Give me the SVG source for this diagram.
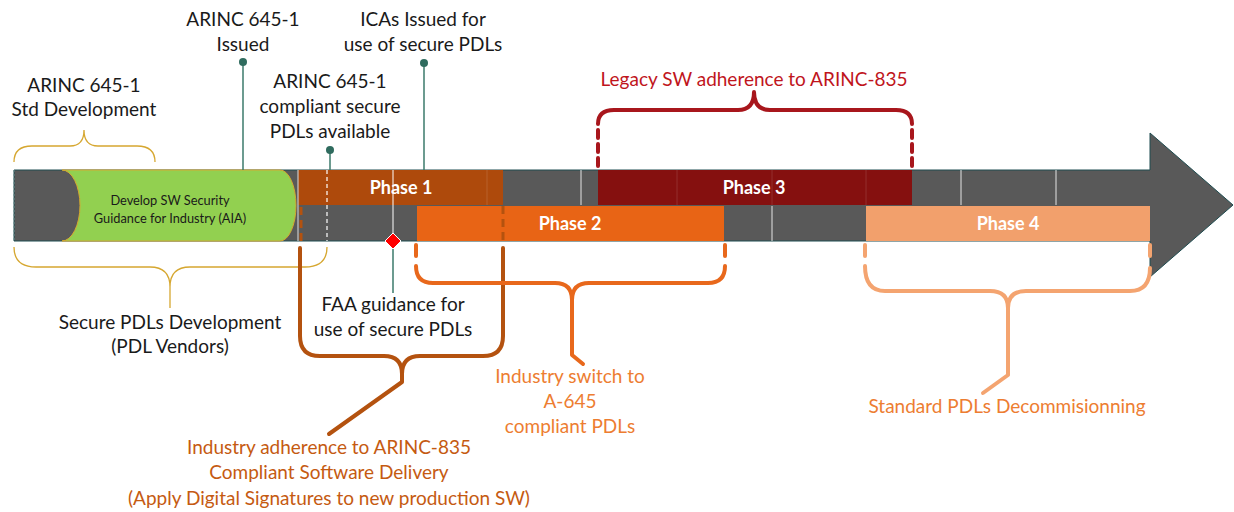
<svg xmlns="http://www.w3.org/2000/svg" width="1234" height="512" viewBox="0 0 1234 512">
  <style>
    .lbl { font-family: Lato, "Liberation Sans", sans-serif; font-size: 19px; text-anchor: middle; fill: #1a1a1a; }
    .phase { font-family: Lato, "Liberation Sans", sans-serif; font-size: 18px; font-weight: bold; text-anchor: middle; fill: #ffffff; }
    .small { font-family: Lato, "Liberation Sans", sans-serif; font-size: 12.8px; text-anchor: middle; fill: #1a1a1a; }
    .pin { stroke: #3b7a6b; stroke-width: 1.5; fill: none; }
    .dot { fill: #2f6b5e; }
    .grid { stroke: #ffffff; stroke-width: 1; opacity: 0.85; }
    .faint { stroke: #ffffff; stroke-width: 1; opacity: 0.12; }
    .brace { fill: none; stroke-width: 4; stroke-linecap: round; stroke-linejoin: round; }
    .gold { fill: none; stroke: #d6a730; stroke-width: 1.3; }
  </style>

  <!-- timeline arrow -->
  <g id="timeline">
    <path d="M14,170 H1150 V133 L1233,205 L1150,277 V241 H14 Z" fill="#595959" stroke="#1f4c50" stroke-width="1"/>
    <line x1="14" y1="170" x2="14" y2="241" stroke="#6a8a8a" stroke-width="1" stroke-dasharray="2 2"/>
  </g>

  <!-- grid ticks inside the bar -->
  <g id="grid">
    <line class="grid" x1="581" y1="170" x2="581" y2="205"/>
    <line class="grid" x1="961" y1="170" x2="961" y2="205"/>
    <line class="grid" x1="1056" y1="170" x2="1056" y2="205"/>
    <line class="grid" x1="772" y1="206" x2="772" y2="241"/>
  </g>

  <!-- development cylinder -->
  <g id="aia-guidance">
    <path d="M62,170 H280 A16,35.5 0 0 1 280,241 H62 A18,35.5 0 0 0 62,170 Z" fill="#92d050" stroke="#d6a730" stroke-width="1"/>
    <text class="small" x="170" y="205">Develop SW Security</text>
    <text class="small" x="170" y="223">Guidance for Industry (AIA)</text>
  </g>

  <!-- phases -->
  <g id="phase1">
    <rect x="298" y="170" width="205" height="35" fill="#ae4a0c"/>
    <line class="faint" x1="487" y1="170" x2="487" y2="205"/>
    <text class="phase" x="401" y="194">Phase 1</text>
  </g>
  <g id="phase2">
    <rect x="417" y="206" width="307" height="35" fill="#e86415"/>
    <text class="phase" x="570" y="230">Phase 2</text>
  </g>
  <g id="phase3">
    <rect x="598" y="170" width="314" height="35" fill="#85100f"/>
    <line class="faint" x1="677" y1="170" x2="677" y2="205"/>
    <line class="faint" x1="772" y1="170" x2="772" y2="205"/>
    <line class="faint" x1="866" y1="170" x2="866" y2="205"/>
    <text class="phase" x="754" y="194">Phase 3</text>
  </g>
  <g id="phase4">
    <rect x="866" y="206" width="284" height="35" fill="#f2a06c"/>
    <text class="phase" x="1008" y="230">Phase 4</text>
  </g>

  <!-- markers and connectors -->
  <g id="connectors">
    <line x1="298" y1="170" x2="298" y2="241" stroke="#c8c8c8" stroke-width="1.2"/>
    <line x1="327" y1="170" x2="327" y2="241" stroke="#ffffff" stroke-width="1.2" stroke-dasharray="4 3"/>
    <line x1="393" y1="170" x2="393" y2="241" stroke="#ffffff" stroke-width="1"/>
    <line class="pin" x1="243" y1="62" x2="243" y2="170"/>
    <line class="pin" x1="424" y1="63" x2="424" y2="170"/>
    <line class="pin" x1="330" y1="150" x2="330" y2="170"/>
    <line class="pin" x1="393" y1="241" x2="393" y2="293"/>
    <circle class="dot" cx="243" cy="62" r="4"/>
    <circle class="dot" cx="424" cy="63" r="4"/>
    <circle class="dot" cx="330" cy="150" r="4"/>
    <path d="M393,233 L401,241 L393,249 L385,241 Z" fill="#ff0000" stroke="#ffffff" stroke-width="1"/>

    <!-- gold braces -->
    <path class="gold" d="M14,162 Q14,146 32,146 H70 Q84,146 84,130 Q84,146 98,146 H137 Q155,146 155,162"/>
    <path class="gold" d="M14,247 Q14,267 36,267 H150 Q170,267 170,287 Q170,267 190,267 H305 Q327,267 327,247"/>
    <line class="gold" x1="170" y1="287" x2="170" y2="308"/>

    <!-- phase 1 brace -->
    <g stroke="#b4520f">
      <line x1="301" y1="207" x2="301" y2="241" stroke-width="3" stroke-dasharray="8 5"/>
      <line x1="503" y1="206" x2="503" y2="241" stroke-width="3" stroke-dasharray="8 5"/>
      <path class="brace" d="M300,248 V336 Q300,356 320,356 H384 Q402,356 402,374 Q402,356 420,356 H483 Q503,356 503,336 V248"/>
      <path class="brace" d="M402,374 V382 L329,434"/>
    </g>

    <!-- phase 2 brace -->
    <g stroke="#e8681c">
      <line class="brace" x1="416" y1="245" x2="416" y2="256"/>
      <line class="brace" x1="725" y1="245" x2="725" y2="256"/>
      <path class="brace" d="M416,266 Q416,283 433,283 H555 Q572,283 572,300 Q572,283 589,283 H708 Q725,283 725,266"/>
      <path class="brace" d="M572,300 V355 L583,364"/>
    </g>

    <!-- phase 3 brace -->
    <g stroke="#a8161c">
      <line class="brace" x1="598" y1="130" x2="598" y2="167" stroke-dasharray="8 6" stroke-linecap="butt"/>
      <line class="brace" x1="912" y1="130" x2="912" y2="167" stroke-dasharray="8 6" stroke-linecap="butt"/>
      <path class="brace" d="M598,124 Q598,110 614,110 H738 Q754,110 754,92 Q754,110 770,110 H896 Q912,110 912,124"/>
    </g>

    <!-- phase 4 brace -->
    <g stroke="#f4a470">
      <line class="brace" x1="865" y1="245" x2="865" y2="256"/>
      <line class="brace" x1="1150" y1="245" x2="1150" y2="256"/>
      <path class="brace" d="M865,266 Q865,291 885,291 H990 Q1008,291 1008,308 Q1008,291 1026,291 H1130 Q1150,291 1150,268"/>
      <path class="brace" d="M1008,308 V375 L983,393"/>
    </g>
  </g>

  <!-- labels -->
  <g id="label-std-dev">
    <text class="lbl" x="84" y="92">ARINC 645-1</text>
    <text class="lbl" x="84" y="116">Std Development</text>
  </g>
  <g id="label-issued">
    <text class="lbl" x="243" y="26">ARINC 645-1</text>
    <text class="lbl" x="243" y="51">Issued</text>
  </g>
  <g id="label-icas">
    <text class="lbl" x="423" y="26">ICAs Issued for</text>
    <text class="lbl" x="423" y="51">use of secure PDLs</text>
  </g>
  <g id="label-available">
    <text class="lbl" x="330" y="88">ARINC 645-1</text>
    <text class="lbl" x="330" y="113">compliant secure</text>
    <text class="lbl" x="330" y="138">PDLs available</text>
  </g>
  <g id="label-legacy">
    <text class="lbl" x="754" y="86" style="fill:#c0151c">Legacy SW adherence to ARINC-835</text>
  </g>
  <g id="label-faa">
    <text class="lbl" x="393" y="311">FAA guidance for</text>
    <text class="lbl" x="393" y="336">use of secure PDLs</text>
  </g>
  <g id="label-vendors">
    <text class="lbl" x="170" y="329">Secure PDLs Development</text>
    <text class="lbl" x="170" y="353">(PDL Vendors)</text>
  </g>
  <g id="label-switch">
    <text class="lbl" x="570" y="383" style="fill:#ed7d31">Industry switch to</text>
    <text class="lbl" x="570" y="408" style="fill:#ed7d31">A-645</text>
    <text class="lbl" x="570" y="433" style="fill:#ed7d31">compliant PDLs</text>
  </g>
  <g id="label-adherence">
    <text class="lbl" x="329" y="454" style="fill:#c55a11">Industry adherence to ARINC-835</text>
    <text class="lbl" x="329" y="479" style="fill:#c55a11">Compliant Software Delivery</text>
    <text class="lbl" x="329" y="505" style="fill:#c55a11">(Apply Digital Signatures to new production SW)</text>
  </g>
  <g id="label-decommission">
    <text class="lbl" x="1007" y="413" style="fill:#ed7d31">Standard PDLs Decommisionning</text>
  </g>
</svg>
